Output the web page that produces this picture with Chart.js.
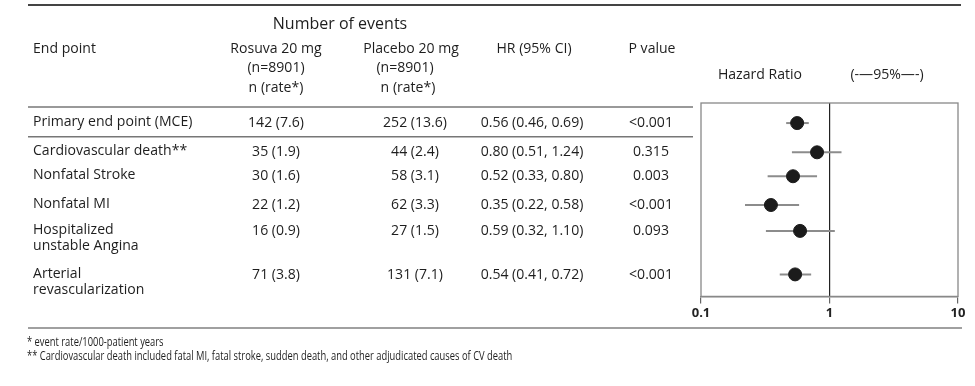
<!DOCTYPE html>
<html>
<head>
<meta charset="utf-8">
<script src="https://cdn.jsdelivr.net/npm/chart.js@4/dist/chart.umd.min.js"></script>
<style>
  html, body { margin: 0; padding: 0; background: #fff; }
  canvas { display: block; }
</style>
</head>
<body>
<canvas id="chart" width="975" height="386"></canvas>
<script>
var endpoints = [
    ['Primary end point (MCE)'],
    ['Cardiovascular death**'],
    ['Nonfatal Stroke'],
    ['Nonfatal MI'],
    ['Hospitalized', 'unstable Angina'],
    ['Arterial', 'revascularization']
];
var rosuvaN = [142, 35, 30, 22, 16, 71];
var rosuvaRate = [7.6, 1.9, 1.6, 1.2, 0.9, 3.8];
var placeboN = [252, 44, 58, 62, 27, 131];
var placeboRate = [13.6, 2.4, 3.1, 3.3, 1.5, 7.1];
var hr = [0.56, 0.80, 0.52, 0.35, 0.59, 0.54];
var ciLow = [0.46, 0.51, 0.33, 0.22, 0.32, 0.41];
var ciHigh = [0.69, 1.24, 0.80, 0.58, 1.10, 0.72];
var pValues = ['<0.001', '0.315', '0.003', '<0.001', '0.093', '<0.001'];
var xTicks = [0.1, 1, 10];
var xTickLabels = ['0.1', '1', '10'];

// row slots on the hidden y scale (0..8, top to bottom)
var rowPos = [0.83, 2.04, 3.03, 4.22, 5.29, 7.09];

var FAMILY = '"Open Sans", "Noto Sans", sans-serif';
var INK = '#1e1e1e';

function txt(ctx, s, x, y, size, align, sx, weight) {
    ctx.save();
    ctx.font = (weight || '500') + ' ' + size + 'px ' + FAMILY;
    ctx.fillStyle = INK;
    ctx.textBaseline = 'middle';
    ctx.textAlign = align || 'left';
    ctx.translate(x, y);
    ctx.scale(sx || 1, 1);
    ctx.fillText(s, 0, 0);
    ctx.restore();
}

function rule(ctx, x1, x2, y, w, color) {
    ctx.save();
    ctx.strokeStyle = color;
    ctx.lineWidth = w;
    ctx.beginPath();
    ctx.moveTo(x1, y);
    ctx.lineTo(x2, y);
    ctx.stroke();
    ctx.restore();
}

var forestPlugin = {
    id: 'forest',
    beforeDatasetsDraw: function (chart) {
        var ctx = chart.ctx, a = chart.chartArea;
        var xs = chart.scales.x, ys = chart.scales.y;
        ctx.save();
        ctx.strokeStyle = '#888';
        ctx.lineWidth = 1.3;
        ctx.strokeRect(a.left, a.top, a.right - a.left, a.bottom - a.top);
        // confidence intervals
        ctx.strokeStyle = '#8c8c8c';
        ctx.lineWidth = 2;
        for (var i = 0; i < hr.length; i++) {
            var y = ys.getPixelForValue(rowPos[i]);
            ctx.beginPath();
            ctx.moveTo(xs.getPixelForValue(ciLow[i]), y);
            ctx.lineTo(xs.getPixelForValue(ciHigh[i]), y);
            ctx.stroke();
        }
        ctx.restore();
    },
    afterDraw: function (chart) {
        var ctx = chart.ctx, ys = chart.scales.y;
        var S = 14.5, SX = 0.97;

        rule(ctx, 28, 961, 5, 2.2, '#444');
        rule(ctx, 28, 693, 107, 1.5, '#777');
        rule(ctx, 28, 962, 328, 2, '#a0a0a0');

        // header
        txt(ctx, 'Number of events', 340, 24, 16, 'center', 1.0);
        txt(ctx, 'End point', 33, 49, S, 'left', SX);
        txt(ctx, 'Rosuva 20 mg', 276, 49, S, 'center', SX);
        txt(ctx, '(n=8901)', 276, 68, S, 'center', SX);
        txt(ctx, 'n (rate*)', 276, 88, S, 'center', SX);
        txt(ctx, 'Placebo 20 mg', 411, 49, S, 'center', SX);
        txt(ctx, '(n=8901)', 405, 68, S, 'center', SX);
        txt(ctx, 'n (rate*)', 408, 88, S, 'center', SX);
        txt(ctx, 'HR (95% CI)', 534, 49, S, 'center', SX);
        txt(ctx, 'P value', 652, 49, S, 'center', SX);
        txt(ctx, 'Hazard Ratio', 760, 75, S, 'center', SX);
        txt(ctx, '(-\u201495%\u2014-)', 887, 75, S, 'center', SX);

        // rows
        for (var i = 0; i < endpoints.length; i++) {
            var y = ys.getPixelForValue(rowPos[i]);
            for (var k = 0; k < endpoints[i].length; k++) {
                txt(ctx, endpoints[i][k], 33, y - 1 + k * 16, S, 'left', SX);
            }
            txt(ctx, rosuvaN[i] + ' (' + rosuvaRate[i].toFixed(1) + ')', 276, y, S, 'center', SX);
            txt(ctx, placeboN[i] + ' (' + placeboRate[i].toFixed(1) + ')', 415, y, S, 'center', SX);
            txt(ctx, hr[i].toFixed(2) + ' (' + ciLow[i].toFixed(2) + ', ' + ciHigh[i].toFixed(2) + ')', 532, y, S, 'center', SX);
            txt(ctx, pValues[i], 651, y, S, 'center', SX);
        }
        // rule under the primary end point
        var yMid = (ys.getPixelForValue(rowPos[0]) + ys.getPixelForValue(rowPos[1])) / 2;
        rule(ctx, 28, 693, yMid - 1, 1.5, '#777');

        // footnotes
        txt(ctx, '* event rate/1000-patient years', 27, 343, 12, 'left', 0.78);
        txt(ctx, '** Cardiovascular death included fatal MI, fatal stroke, sudden death, and other adjudicated causes of CV death', 27, 357, 12, 'left', 0.78);
    }
};

var ctx = document.getElementById('chart').getContext('2d');
var forestChart = new Chart(ctx, {
    type: 'scatter',
    data: {
        datasets: [{
            label: 'Hazard ratio',
            data: hr.map(function (v, i) { return { x: v, y: rowPos[i] }; }),
            pointRadius: 6.5,
            pointHoverRadius: 6.5,
            backgroundColor: '#1b1b1b',
            borderColor: '#1b1b1b'
        }]
    },
    options: {
        responsive: false,
        animation: false,
        events: [],
        layout: { padding: { left: 701, right: 17, top: 103, bottom: 63 } },
        plugins: { legend: { display: false }, tooltip: { enabled: false } },
        scales: {
            x: {
                type: 'logarithmic',
                min: 0.1,
                max: 10,
                afterBuildTicks: function (s) { s.ticks = xTicks.map(function (v) { return { value: v }; }); },
                ticks: {
                    callback: function (v, i) { return xTickLabels[i]; },
                    font: { size: 13, weight: 'bold', family: FAMILY },
                    color: '#222',
                    padding: 2,
                    maxRotation: 0,
                    autoSkip: false
                },
                grid: {
                    color: function (c) { return c.tick && c.tick.value === 1 ? '#222' : 'rgba(0,0,0,0)'; },
                    tickColor: '#666',
                    tickLength: 7,
                    lineWidth: 1.2
                },
                border: { display: true, color: '#888', width: 1.5 }
            },
            y: { type: 'linear', min: 0, max: 8, reverse: true, display: false }
        }
    },
    plugins: [forestPlugin]
});
</script>
</body>
</html>
